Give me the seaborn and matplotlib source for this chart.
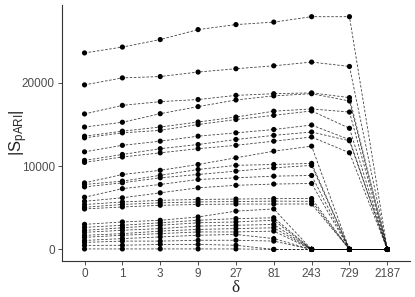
import pandas as pd
import matplotlib
matplotlib.use('Agg')
import matplotlib.pyplot as plt
import seaborn as sns

# delta values (discrete axis)
delta = ['0', '1', '3', '9', '27', '81', '243', '729', '2187']

# series that stay non-zero until delta = 729
upper = [
    [23600, 24300, 25200, 26400, 27000, 27300, 27950, 27950, 0],
    [19760, 20600, 20760, 21300, 21700, 22050, 22500, 21970, 0],
    [16270, 17300, 17750, 18000, 18500, 18700, 18800, 18230, 0],
    [14700, 15270, 16300, 17150, 17950, 18440, 18700, 17830, 0],
    [13600, 14200, 14700, 15300, 15900, 16600, 16870, 16500, 0],
    [13400, 14000, 14300, 15000, 15600, 16100, 16630, 14550, 0],
    [11720, 12500, 13000, 13600, 14000, 14400, 14940, 13180, 0],
    [10690, 11400, 12100, 12600, 13200, 13700, 14100, 13050, 0],
    [10450, 11100, 11600, 12100, 12500, 13000, 13500, 11610, 0],
]

# series that drop to zero at delta = 729
middle = [
    [7990, 9000, 9500, 10200, 11000, 11800, 12400, 0, 0],
    [7800, 8200, 8900, 9600, 10100, 10200, 10330, 0, 0],
    [7510, 8000, 8600, 9000, 9400, 9800, 10090, 0, 0],
    [6270, 7300, 7800, 8400, 8600, 8800, 8880, 0, 0],
    [5780, 6200, 6800, 7400, 7700, 7850, 7920, 0, 0],
    [5390, 5700, 5900, 6000, 6050, 6100, 6110, 0, 0],
    [5060, 5400, 5600, 5700, 5750, 5800, 5780, 0, 0],
    [4860, 5100, 5300, 5400, 5450, 5450, 5460, 0, 0],
]

# series that drop to zero at delta = 243 (or earlier)
lower = [
    [3010, 3300, 3500, 3900, 4600, 4860, 0, 0, 0],
    [2650, 2900, 3200, 3500, 3700, 3800, 0, 0, 0],
    [2290, 2600, 2900, 3200, 3300, 3500, 0, 0, 0],
    [2050, 2300, 2500, 2800, 2900, 3000, 0, 0, 0],
    [1690, 1900, 2200, 2400, 2500, 2600, 0, 0, 0],
    [1450, 1700, 1900, 2100, 2100, 2200, 0, 0, 0],
    [1080, 1300, 1500, 1700, 1800, 1300, 0, 0, 0],
    [840, 1000, 1000, 1100, 1100, 1000, 0, 0, 0],
    [480, 500, 600, 600, 500, 0, 0, 0, 0],
    [60, 60, 60, 60, 60, 0, 0, 0, 0],
]

rows = []
for k, s in enumerate(upper + middle + lower):
    for i, v in enumerate(s):
        rows.append({'series': k, 'pos': i, 'size': v})
df = pd.DataFrame(rows)

sns.set_style('white')
plt.rcParams['font.family'] = ['Liberation Sans', 'DejaVu Sans']
plt.rcParams['mathtext.fontset'] = 'custom'
plt.rcParams['mathtext.rm'] = 'Liberation Sans'
plt.rcParams['mathtext.it'] = 'Liberation Sans'

fig = plt.figure(figsize=(4.15, 2.97), dpi=100)
ax = fig.add_axes([0.149, 0.121, 0.839, 0.862])

sns.lineplot(data=df, x='pos', y='size', units='series', estimator=None,
             color='black', linestyle=(0, (3, 2)), linewidth=0.6, alpha=0.75,
             ax=ax, legend=False)
sns.scatterplot(data=df, x='pos', y='size', color='black', s=14,
                edgecolor='none', ax=ax, legend=False)

ax.set_xlim(-0.6, 8.6)
ymax = 27950
ax.set_ylim(-0.05 * ymax, 1.05 * ymax)
ax.set_xticks(range(len(delta)))
ax.set_xticklabels(delta)
ax.set_yticks([0, 10000, 20000])
ax.set_yticklabels(['0', '10000', '20000'])

for side in ['top', 'right']:
    ax.spines[side].set_visible(False)
for side in ['left', 'bottom']:
    ax.spines[side].set_color('#333333')
    ax.spines[side].set_linewidth(0.8)
ax.tick_params(axis='both', length=3, width=0.6, color='#333333',
               labelsize=8.5, labelcolor='#4D4D4D', pad=2, left=True, bottom=True)

ax.set_xlabel('δ', family=['Liberation Serif', 'DejaVu Serif'], fontsize=12.5, labelpad=0)
ax.set_ylabel(r'|S$_{\mathrm{pARI}}$|', fontsize=12)
ax.yaxis.set_label_coords(-0.092, 0.5)

fig.savefig('out.png', dpi=100)
